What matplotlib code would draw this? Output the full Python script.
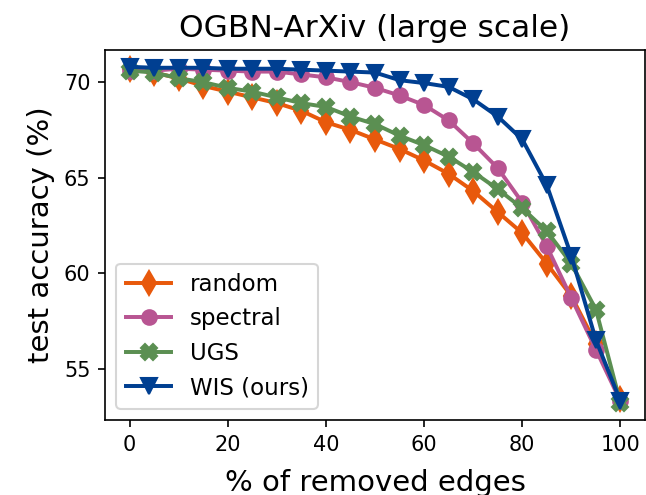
import matplotlib
matplotlib.use("Agg")
import matplotlib.pyplot as plt
import numpy as np

x = list(range(0, 101, 5))

random_acc = [70.7, 70.5, 70.2, 69.8, 69.5, 69.2, 68.9, 68.5, 67.9, 67.5, 67.0,
              66.5, 65.9, 65.2, 64.3, 63.2, 62.1, 60.5, 58.8, 56.3, 53.4]
spectral_acc = [70.6, 70.6, 70.7, 70.65, 70.6, 70.55, 70.55, 70.4, 70.25, 70.0, 69.7,
                69.3, 68.8, 68.0, 66.8, 65.5, 63.7, 61.4, 58.7, 56.0, 53.3]
ugs_acc = [70.6, 70.5, 70.2, 70.0, 69.7, 69.5, 69.2, 68.9, 68.7, 68.2, 67.8,
           67.2, 66.7, 66.1, 65.3, 64.4, 63.4, 62.2, 60.5, 58.1, 53.2]
wis_acc = [70.8, 70.75, 70.75, 70.75, 70.7, 70.7, 70.7, 70.65, 70.6, 70.55, 70.5,
           70.1, 69.95, 69.75, 69.1, 68.2, 67.0, 64.6, 60.9, 56.5, 53.3]

# small figure at high dpi -> 646x495 px
fig = plt.figure(figsize=(646 / 150, 495 / 150), dpi=150)
ax = fig.add_axes([0.1625, 0.1515, 0.836, 0.7475])

ax.plot(x, random_acc, marker='d', color='#e8590c', lw=1.9, ms=8, label='random')
ax.plot(x, spectral_acc, marker='o', color='#b85592', lw=1.9, ms=7, label='spectral')
ax.plot(x, ugs_acc, marker='X', color='#5b8f52', lw=1.9, ms=8, label='UGS')
ax.plot(x, wis_acc, marker='v', color='#003f91', lw=1.9, ms=8, label='WIS (ours)')

ax.set_xticks([0, 20, 40, 60, 80, 100])
ax.set_yticks([55, 60, 65, 70])
ax.set_xlabel('% of removed edges', fontsize=14, labelpad=7)
ax.set_ylabel('test accuracy (%)', fontsize=14)
ax.set_title('OGBN-ArXiv (large scale)', fontsize=15)
ax.legend(loc='lower left', fontsize=11)

fig.savefig('out.png', dpi=150)
